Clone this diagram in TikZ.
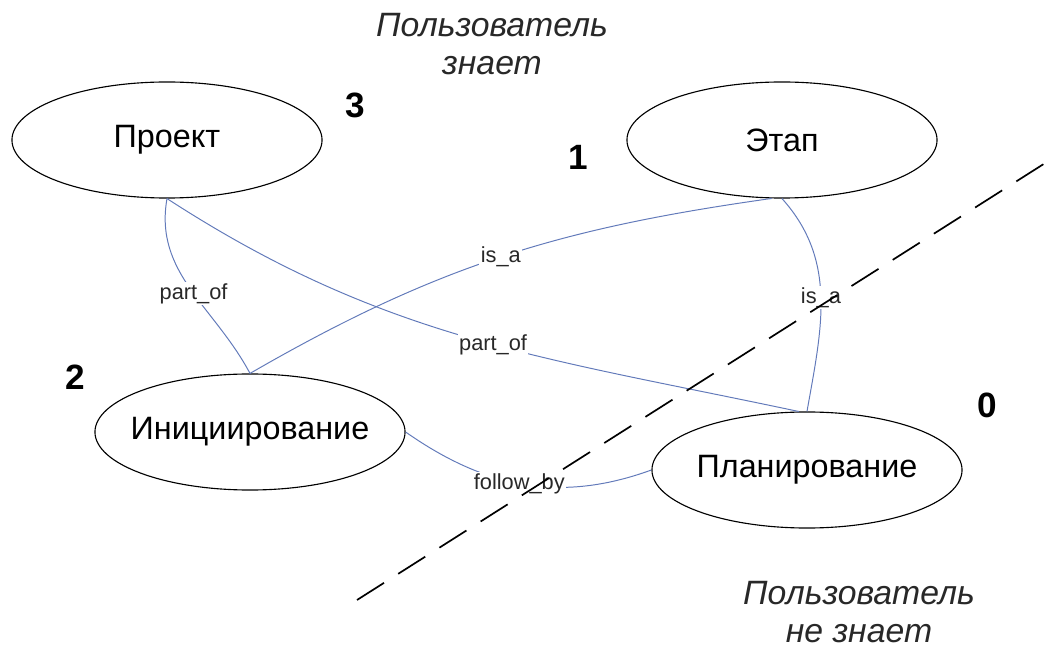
\documentclass[tikz,border=0pt]{standalone}
\usepackage{fontspec}
\setmainfont{Liberation Sans}
\usetikzlibrary{shapes.geometric, positioning}
\definecolor{linkColor}{RGB}{98, 122, 186}
\definecolor{textColor}{RGB}{40, 40, 40}

\begin{document}
\begin{tikzpicture}[x=0.025cm, y=-0.025cm,
        concept/.style={ellipse, draw, line width=0.8pt, inner sep=0pt, minimum width=7.75cm,
              minimum height=2.9cm, font=\fontsize{23}{27}\selectfont},
        link/.style={draw=linkColor, line width=0.7pt},
        linklabel/.style={fill=white, inner sep=1pt, text=textColor,
              font=\fontsize{15.5}{18}\selectfont},
        level/.style={font=\fontsize{25}{30}\selectfont\bfseries},
        side/.style={align=center, text=textColor, font=\fontsize{24}{27.5}\selectfont\itshape}]
        \useasboundingbox (0,0) rectangle (1055,649);

        % Concepts (text kept out of the ellipse size)
        \node[concept] (project) at (167,140) {\makebox[0pt]{Проект}};
        \node[concept] (stage)   at (782,140) {\makebox[0pt]{Этап}};
        \node[concept] (init)    at (250,432) {\makebox[0pt]{Инициирование}};
        \node[concept] (plan)    at (807,470) {\makebox[0pt]{Планирование}};

        % Levels
        \foreach \pos/\num in {(355,105)/3, (578,157)/1, (75,377)/2, (987,405)/0} {
            \node[level] (lvl\num) at \pos {\num};
        }

        % Relations
        \draw[link] (project.south) to[out=-100, in=118]
            node[linklabel, pos=0.53] {part\_of} (init.north);
        \draw[link] (project.south) to[out=-33, in=168]
            node[linklabel, pos=0.54] {part\_of} (plan.98);
        \draw[link] (init.north) to[out=30, in=188]
            node[linklabel, pos=0.5] {is\_a} (stage.-100);
        \draw[link] (stage.south) to[out=-48, in=80]
            node[linklabel, pos=0.5] {is\_a} (plan.north);
        \draw[link] (init.east) to[out=-35, in=200]
            node[linklabel, pos=0.48] {follow\_by} (plan.west);

        % Border of user knowledge
        \coordinate (cutA) at (357,600);
        \coordinate (cutB) at (1050,160);
        \draw[line width=1.2pt, dash pattern=on 0.8cm off 0.42cm] (cutA) -- (cutB);

        \node[side] (knows)   at (492,44)  {Пользователь\\знает};
        \node[side] (unknown) at (859,612) {Пользователь\\не знает};
    \end{tikzpicture}
\end{document}
